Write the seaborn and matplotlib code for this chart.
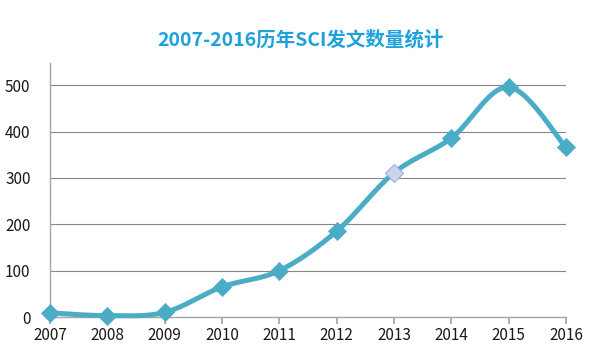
import numpy as np
import pandas as pd
import matplotlib
matplotlib.use("Agg")
import matplotlib.pyplot as plt
import seaborn as sns

years = [2007, 2008, 2009, 2010, 2011, 2012, 2013, 2014, 2015, 2016]
counts = [9, 3, 10, 65, 100, 185, 311, 386, 496, 366]
yticks = [0, 100, 200, 300, 400, 500]
title = "2007-2016历年SCI发文数量统计"
highlight_year = 2013

sns.set_theme(style="white")
plt.rcParams['font.family'] = ['Noto Sans CJK SC', 'DejaVu Sans']

line_color = "#4bacc6"

# smooth rendering (Catmull-Rom style, like Excel's smoothed line)
x = np.array(years, dtype=float)
y = np.array(counts, dtype=float)
xs, ys = [], []
n = len(x)
for i in range(n - 1):
    p0 = (x[i - 1], y[i - 1]) if i > 0 else (x[i], y[i])
    p1 = (x[i], y[i])
    p2 = (x[i + 1], y[i + 1])
    p3 = (x[i + 2], y[i + 2]) if i + 2 < n else (x[i + 1], y[i + 1])
    t = np.linspace(0, 1, 30)
    c1 = (p1[0] + (p2[0] - p0[0]) / 6, p1[1] + (p2[1] - p0[1]) / 6)
    c2 = (p2[0] - (p3[0] - p1[0]) / 6, p2[1] - (p3[1] - p1[1]) / 6)
    bx = (1 - t) ** 3 * p1[0] + 3 * (1 - t) ** 2 * t * c1[0] + 3 * (1 - t) * t ** 2 * c2[0] + t ** 3 * p2[0]
    by = (1 - t) ** 3 * p1[1] + 3 * (1 - t) ** 2 * t * c1[1] + 3 * (1 - t) * t ** 2 * c2[1] + t ** 3 * p2[1]
    xs.extend(bx)
    ys.extend(by)
smooth = pd.DataFrame({"x": xs, "y": ys})
df = pd.DataFrame({"year": years, "count": counts})

fig = plt.figure(figsize=(6, 3.58), dpi=100)
ax = fig.add_axes([50 / 600, 41 / 358, 516 / 600, 254 / 358])

sns.lineplot(data=smooth, x="x", y="y", ax=ax, color=line_color, linewidth=3.6,
             sort=False, estimator=None, clip_on=False, zorder=3)
normal = df[df["year"] != highlight_year]
hl = df[df["year"] == highlight_year]
sns.scatterplot(data=normal, x="year", y="count", ax=ax, marker="D", s=85,
                color=line_color, edgecolor=line_color, linewidth=0.5, clip_on=False, zorder=4)
sns.scatterplot(data=hl, x="year", y="count", ax=ax, marker="D", s=85,
                color="#c9d4f0", edgecolor="#9fb0d8", linewidth=0.8, clip_on=False, zorder=4)

ax.set_xlim(2007, 2016)
ax.set_ylim(0, 548)
ax.set_xticks(years)
ax.set_xticklabels([str(v) for v in years])
ax.set_yticks(yticks)
ax.set_yticklabels([str(v) for v in yticks])
ax.yaxis.grid(True, color="#868686", linewidth=0.8)
ax.set_axisbelow(True)
for s in ["top", "right"]:
    ax.spines[s].set_visible(False)
for s in ["left", "bottom"]:
    ax.spines[s].set_color("#a6a6a6")
    ax.spines[s].set_linewidth(1)
ax.tick_params(axis="x", which="both", bottom=True, length=5, color="#a6a6a6",
               labelsize=11, pad=2, labelcolor="#1a1a1a")
ax.tick_params(axis="y", left=False, labelsize=11, pad=8, labelcolor="#1a1a1a")
ax.set_xlabel("")
ax.set_ylabel("")
if ax.get_legend():
    ax.get_legend().remove()

fig.text(0.5, 1 - 40 / 358, title, ha="center", va="center", fontsize=14,
         fontweight="bold", color="#1fa2dc")

fig.savefig("out.png", dpi=100)
